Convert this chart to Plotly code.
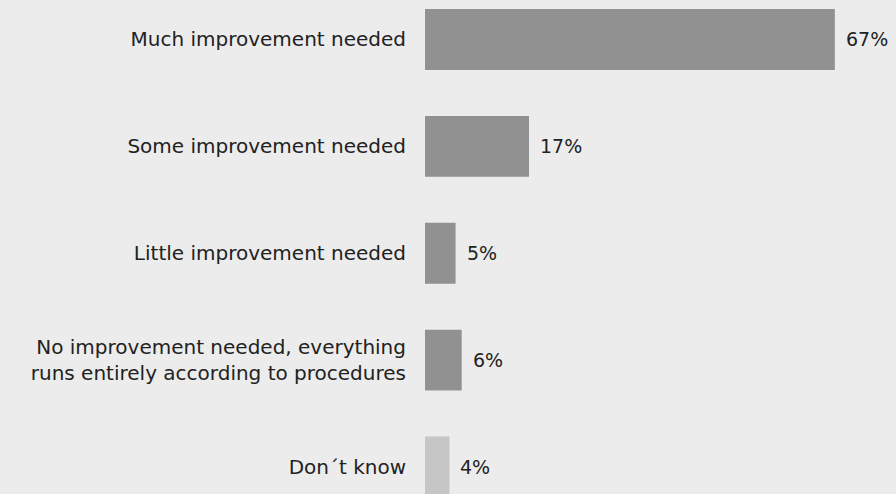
import plotly.graph_objects as go

categories = [
    "Much improvement needed",
    "Some improvement needed",
    "Little improvement needed",
    "No improvement needed, everything<br>runs entirely according to procedures",
    "Don´t know",
]
values = [67, 17, 5, 6, 4]
value_labels = ["67%", "17%", "5%", "6%", "4%"]
bar_colors = ["#919191", "#919191", "#919191", "#919191", "#c6c6c6"]

FONT = "DejaVu Sans"
TEXT_COLOR = "#222222"

fig = go.Figure(
    go.Bar(
        x=values,
        y=categories,
        orientation="h",
        width=0.57,
        marker=dict(color=bar_colors, line=dict(width=0)),
        hoverinfo="skip",
    )
)

# value labels placed just right of each bar end
for cat, val, lab in zip(categories, values, value_labels):
    fig.add_annotation(
        x=val,
        y=cat,
        xref="x",
        yref="y",
        text=lab,
        showarrow=False,
        xanchor="left",
        yanchor="middle",
        xshift=9,
        font=dict(family=FONT, size=19, color=TEXT_COLOR),
    )

fig.update_layout(
    width=896,
    height=494,
    margin=dict(l=425, r=0, t=0, b=0),
    paper_bgcolor="#ececec",
    plot_bgcolor="#ececec",
    font=dict(family=FONT, size=19, color=TEXT_COLOR),
    showlegend=False,
    xaxis=dict(
        range=[0, 77],
        visible=False,
        showgrid=False,
        zeroline=False,
    ),
    yaxis=dict(
        type="category",
        categoryorder="array",
        categoryarray=categories,
        range=[4.2526, -0.3695],
        showgrid=False,
        zeroline=False,
        showline=False,
        ticks="",
        ticklabelstandoff=18,
        tickfont=dict(family=FONT, size=20, color=TEXT_COLOR),
    ),
)

fig.write_html("out.html")
